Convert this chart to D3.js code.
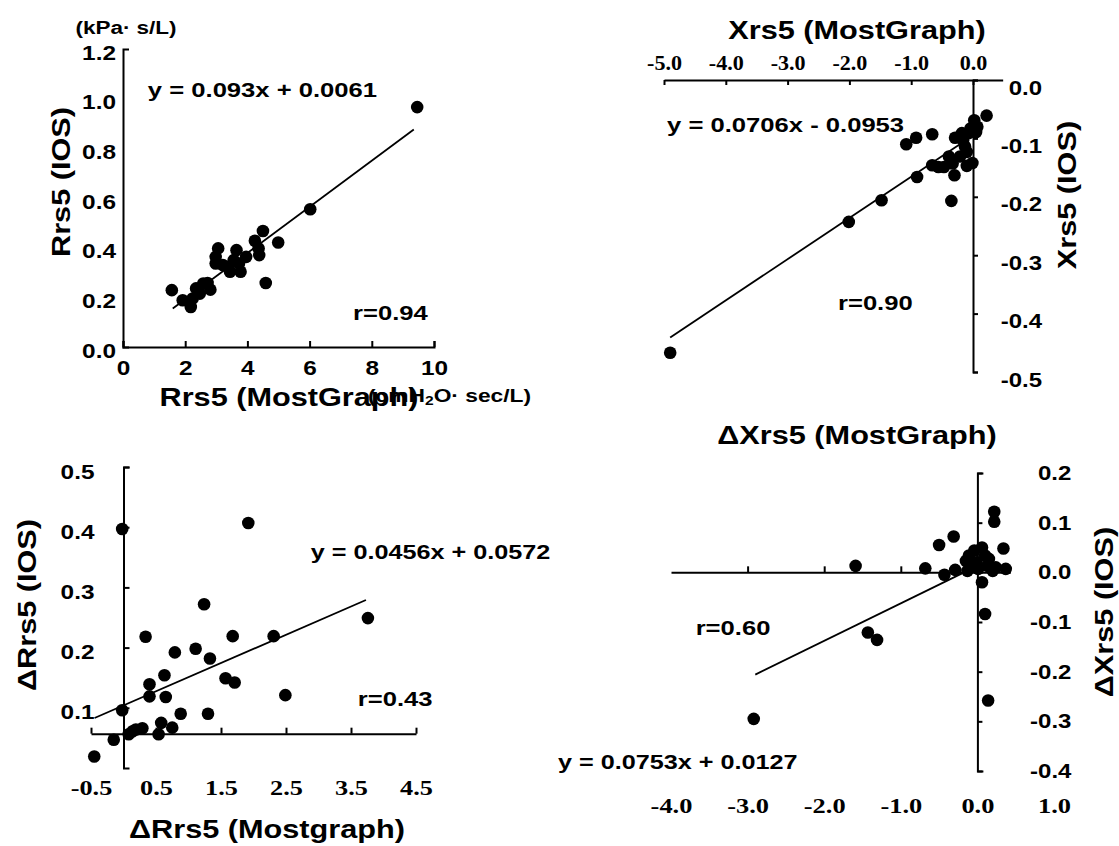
<!DOCTYPE html>
<html>
<head>
<meta charset="utf-8">
<script src="https://cdnjs.cloudflare.com/ajax/libs/d3/7.8.5/d3.min.js"></script>
<style>
  body { margin: 0; background: #fff; }
  svg text { font-family: "Liberation Sans", Arial, sans-serif; font-weight: bold; fill: #000; }
  .serif text { font-family: "Liberation Serif", "Times New Roman", serif; }
  .axis path, .axis line { stroke: #000; stroke-width: 2; }
</style>
</head>
<body>
<div id="chart"></div>
<script>
// ---- data ----
// A: Rrs5, MostGraph vs IOS
var rrsMG  = [9.46, 6.02, 4.99, 4.50, 4.59, 4.24, 4.38, 4.36, 3.65, 3.78, 3.96, 3.06, 2.98, 3.21, 3.44, 3.56, 2.98, 2.72, 2.81, 2.35, 2.47, 2.24, 2.18, 1.92, 1.57, 2.58, 3.38, 3.73]
var rrsIOS = [0.966, 0.555, 0.421, 0.467, 0.258, 0.428, 0.370, 0.397, 0.390, 0.303, 0.363, 0.397, 0.336, 0.330, 0.303, 0.350, 0.363, 0.258, 0.231, 0.236, 0.215, 0.195, 0.161, 0.188, 0.229, 0.256, 0.323, 0.336]
var rrsFitX = [1.6, 9.35]
var rrsFitY = [0.155, 0.876]
var rrsXTicks = [0, 2, 4, 6, 8, 10]
var rrsYTicks = [0, 0.2, 0.4, 0.6, 0.8, 1.0, 1.2]

// B: Xrs5
var xrsMG  = [-4.90, -2.01, -1.48, -0.905, -0.66, -0.66, -0.92, -1.08, -0.35, -0.30, -0.33, -0.47, -0.56, -0.10, -0.01, -0.29, -0.18, 0.22, 0.02, -0.04, 0.05, -0.16, -0.10, -0.21, 0.07, -0.07, -0.13, -0.39]
var xrsIOS = [-0.467, -0.243, -0.206, -0.166, -0.146, -0.093, -0.099, -0.110, -0.207, -0.163, -0.143, -0.149, -0.149, -0.147, -0.142, -0.099, -0.091, -0.061, -0.069, -0.083, -0.089, -0.103, -0.123, -0.131, -0.080, -0.091, -0.114, -0.131]
var xrsFitX = [-4.9, 0]
var xrsFitY = [-0.441, -0.095]
var xrsXTicks = [-5, -4, -3, -2, -1, 0]
var xrsYTicks = [0, -0.1, -0.2, -0.3, -0.4, -0.5]

// C: delta Rrs5
var dRrsMG  = [-0.02, 1.92, 3.76, 1.24, 0.34, 1.68, 2.31, 0.79, 1.11, 1.33, 0.63, 1.57, 1.71, 0.40, 0.40, 0.65, 2.49, -0.02, 0.88, 1.30, 0.58, 0.75, 0.29, 0.14, 0.08, 0.54, -0.15, -0.45, 0.19]
var dRrsIOS = [0.397, 0.407, 0.249, 0.272, 0.218, 0.219, 0.219, 0.192, 0.198, 0.182, 0.154, 0.149, 0.142, 0.139, 0.119, 0.118, 0.121, 0.096, 0.090, 0.090, 0.075, 0.067, 0.066, 0.061, 0.056, 0.056, 0.047, 0.019, 0.064]
var dRrsFitX = [-0.445, 3.73]
var dRrsFitY = [0.083, 0.279]
var dRrsXTicks = [-0.5, 0.5, 1.5, 2.5, 3.5, 4.5]
var dRrsYTicks = [0.1, 0.2, 0.3, 0.4, 0.5]

// D: delta Xrs5
var dXrsMG  = [-2.92, -1.43, -1.31, -1.59, -0.68, -0.50, -0.31, -0.43, -0.29, 0.22, 0.22, 0.14, 0.10, 0.06, 0.34, 0.37, 0.06, -0.11, -0.08, -0.13, -0.01, 0.15, 0.24, 0.10, 0.01, 0.20, -0.15, -0.04, 0.13]
var dXrsIOS = [-0.295, -0.121, -0.136, 0.013, 0.008, 0.055, 0.072, -0.005, 0.005, 0.122, 0.102, -0.258, -0.084, -0.020, 0.048, 0.007, 0.050, 0.034, 0.013, 0.003, 0.020, 0.027, 0.010, 0.034, 0.007, 0.003, 0.023, 0.044, 0.013]
var dXrsFitX = [-2.9, 0]
var dXrsFitY = [-0.206, 0.013]
var dXrsXTicks = [-4, -3, -2, -1, 0, 1]
var dXrsYTicks = [0.2, 0.1, 0, -0.1, -0.2, -0.3, -0.4]

var fmt1 = function(d){ return d.toFixed(1) }

var svg = d3.select("#chart")
  .append("svg")
    .attr("width", 1119)
    .attr("height", 846)

// the scanned lettering is wider than Arial, so stretch text sideways around its anchor
function stretch(sel, s) {
  sel.attr("transform", function() {
    var x = +this.getAttribute("x") || 0, y = +this.getAttribute("y") || 0
    return "translate(" + x + "," + y + ") scale(" + s + ",1) translate(" + (-x) + "," + (-y) + ")"
  })
}

// dots for one panel
function dots(xs, ys, x, y) {
  svg.append("g")
    .selectAll("circle")
    .data(xs)
    .enter()
    .append("circle")
      .attr("cx", function(d){ return x(d) })
      .attr("cy", function(d, i){ return y(ys[i]) })
      .attr("r", 6.3)
      .style("fill", "#000")
}

// regression line
function fitLine(fx, fy, x, y) {
  svg.append("line")
    .attr("x1", x(fx[0])).attr("y1", y(fy[0]))
    .attr("x2", x(fx[1])).attr("y2", y(fy[1]))
    .style("stroke", "#000")
    .style("stroke-width", 1.8)
}

function label(txt, x, y, size, anchor, sx, rot) {
  var t = svg.append("text")
    .attr("x", x)
    .attr("y", y)
    .attr("text-anchor", anchor || "start")
    .attr("dominant-baseline", "central")
    .style("font-size", size + "px")
    .text(txt)
  var tr = "translate(" + x + "," + y + ") scale(" + (sx || 1) + ",1) translate(" + (-x) + "," + (-y) + ")"
  if (rot) tr = "rotate(-90," + x + "," + y + ") " + tr
  t.attr("transform", tr)
  return t
}

// ===== A: Rrs5 =====
var x1 = d3.scaleLinear().domain([0, 10]).range([123, 434])
var y1 = d3.scaleLinear().domain([0, 1.2]).range([347, 49])

svg.append("g").attr("class", "axis")
  .attr("transform", "translate(0," + y1(0) + ")")
  .call(d3.axisBottom(x1).tickValues(rrsXTicks).tickSizeInner(-6).tickSizeOuter(-6).tickPadding(14))
  .selectAll("text").style("font-size", "20px").call(stretch, 1.22)

svg.append("g").attr("class", "axis")
  .attr("transform", "translate(" + x1(0) + ",0)")
  .call(d3.axisLeft(y1).tickValues(rrsYTicks).tickSizeInner(0).tickSizeOuter(-6).tickPadding(7).tickFormat(fmt1))
  .selectAll("text").style("font-size", "20px").attr("dy", "0.5em").call(stretch, 1.22)

fitLine(rrsFitX, rrsFitY, x1, y1)
dots(rrsMG, rrsIOS, x1, y1)

label("(kPa· s/L)", x1(0) + 3, 28, 18, "middle", 1.25)
label("y = 0.093x + 0.0061", x1(0.8), y1(1.034), 21, "start", 1.22)
label("r=0.94", x1(8.6), y1(0.137), 21, "middle", 1.22)
label("Rrs5 (IOS)", 61, 182, 26, "middle", 1.18, true)
label("Rrs5 (MostGraph)", 289, 397, 26, "middle", 1.18)
var u = label("(cmH", 368, 395, 19, "start", 1.2)
u.append("tspan").attr("dy", 5).style("font-size", "13px").text("2")
u.append("tspan").attr("dy", -5).text("O· sec/L)")

// ===== B: Xrs5 =====
var x2 = d3.scaleLinear().domain([-5, 0]).range([664, 973])
var y2 = d3.scaleLinear().domain([-0.5, 0]).range([372, 80])
var x2line = x2.copy().domain([-5, 0.48]).range([x2(-5), x2(0.48)])

svg.append("g").attr("class", "axis serif")
  .attr("transform", "translate(0," + y2(0) + ")")
  .call(d3.axisTop(x2line).tickValues(xrsXTicks).tickSizeInner(-5).tickSizeOuter(0).tickPadding(10).tickFormat(fmt1))
  .selectAll("text").style("font-size", "21px").call(stretch, 1.05)

svg.append("g").attr("class", "axis")
  .attr("transform", "translate(" + x2(0) + ",0)")
  .call(d3.axisRight(y2).tickValues(xrsYTicks).tickSizeInner(5).tickSizeOuter(5).tickFormat(fmt1))
  .selectAll("text")
    .style("font-size", "20px")
    .attr("text-anchor", "end")
    .attr("x", 69)
    .attr("dy", "0.7em")
    .call(stretch, 1.2)

fitLine(xrsFitX, xrsFitY, x2, y2)
dots(xrsMG, xrsIOS, x2, y2)

label("Xrs5 (MostGraph)", 857, 30, 26, "middle", 1.18)
label("y = 0.0706x - 0.0953", x2(-4.95), y2(-0.077), 21, "start", 1.22)
label("r=0.90", x2(-1.58), y2(-0.382), 21, "middle", 1.22)
label("Xrs5 (IOS)", 1067, 195, 26, "middle", 1.18, true)

// ===== C: delta Rrs5 =====
var x3 = d3.scaleLinear().domain([-0.5, 4.5]).range([91, 416])
var y3 = d3.scaleLinear().domain([0, 0.5]).range([768, 467])

svg.append("g").attr("class", "axis serif")
  .attr("transform", "translate(0," + y3(0.057) + ")")
  .call(d3.axisBottom(x3).tickValues(dRrsXTicks).tickSizeInner(-6).tickSizeOuter(0).tickPadding(46).tickFormat(fmt1))
  .selectAll("text").style("font-size", "21px").call(stretch, 1.25)

svg.append("g").attr("class", "axis")
  .attr("transform", "translate(" + x3(0) + ",0)")
  .call(d3.axisLeft(y3).tickValues(dRrsYTicks).tickSizeInner(-6).tickSizeOuter(-6).tickPadding(29).tickFormat(fmt1))
  .selectAll("text").style("font-size", "20px").attr("dy", "0.55em").call(stretch, 1.22)

fitLine(dRrsFitX, dRrsFitY, x3, y3)
dots(dRrsMG, dRrsIOS, x3, y3)

label("y = 0.0456x + 0.0572", x3(2.88), y3(0.359), 21, "start", 1.2)
label("r=0.43", x3(4.18), y3(0.115), 21, "middle", 1.22)
label("\u0394Rrs5 (IOS)", 27, 605, 26, "middle", 1.18, true)
label("\u0394Rrs5 (Mostgraph)", 267, 829, 26, "middle", 1.18)

// ===== D: delta Xrs5 =====
var x4 = d3.scaleLinear().domain([-4, 1]).range([671, 1054])
var y4 = d3.scaleLinear().domain([-0.4, 0.2]).range([771, 473])
var x4line = x4.copy().domain([-4, 0.43]).range([x4(-4), x4(0.43)])

svg.append("g").attr("class", "axis")
  .attr("transform", "translate(0," + y4(0) + ")")
  .call(d3.axisBottom(x4line).tickValues([-3, -2, -1]).tickSizeInner(-6).tickSizeOuter(0).tickFormat(""))

// tick labels sit below the panel
var lab4 = svg.append("g").attr("class", "serif")
  .attr("transform", "translate(0,797)")
  .call(d3.axisBottom(x4).tickValues(dXrsXTicks).tickSize(0).tickPadding(0).tickFormat(fmt1))
lab4.select(".domain").remove()
lab4.selectAll("text").style("font-size", "22px").call(stretch, 1.2)

svg.append("g").attr("class", "axis")
  .attr("transform", "translate(" + x4(0) + ",0)")
  .call(d3.axisRight(y4).tickValues(dXrsYTicks).tickSizeInner(5).tickSizeOuter(6).tickFormat(fmt1))
  .selectAll("text")
    .style("font-size", "20px")
    .attr("text-anchor", "end")
    .attr("x", 94)
    .call(stretch, 1.2)

fitLine(dXrsFitX, dXrsFitY, x4, y4)
dots(dXrsMG, dXrsIOS, x4, y4)

label("\u0394Xrs5 (MostGraph)", 857, 435, 26, "middle", 1.18)
label("r=0.60", x4(-3.19), y4(-0.112), 21, "middle", 1.22)
label("y = 0.0753x + 0.0127", 558, 762, 21, "start", 1.2)
label("\u0394Xrs5 (IOS)", 1104, 612, 26, "middle", 1.18, true)
</script>
</body>
</html>
